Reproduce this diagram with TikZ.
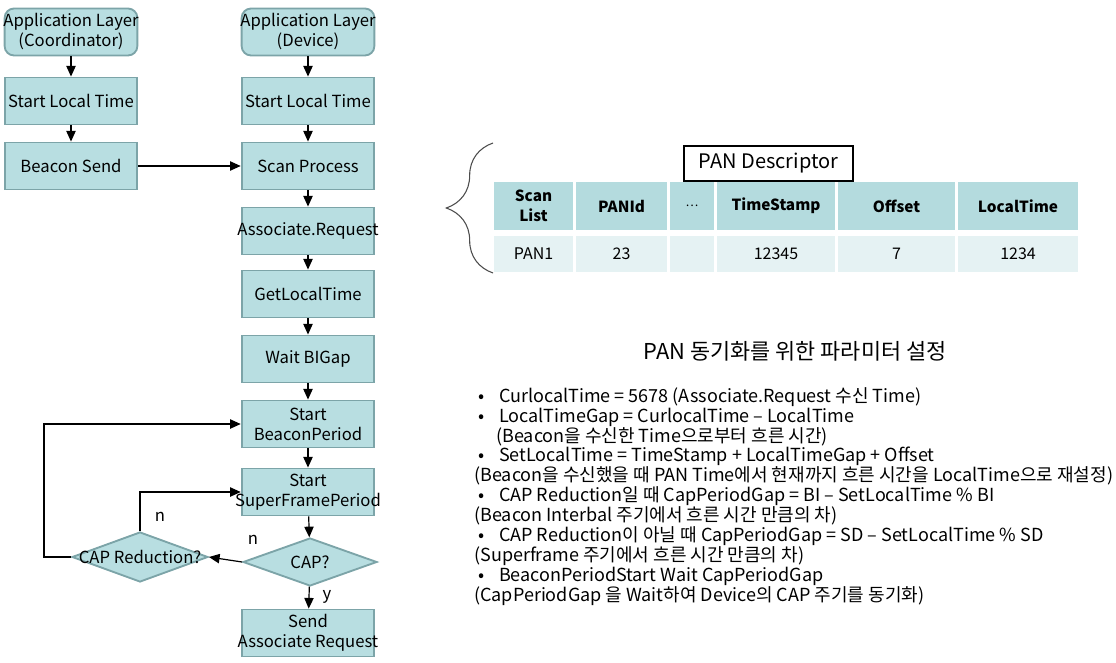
\documentclass[tikz,border=0pt]{standalone}
\usepackage{fontspec}
\setmainfont{Noto Sans CJK KR}
\usetikzlibrary{arrows.meta,shapes.geometric,decorations.pathreplacing}
\definecolor{boxfill}{RGB}{184,222,225}
\definecolor{boxline}{RGB}{124,164,168}
\definecolor{headfill}{RGB}{180,219,222}
\definecolor{rowfill}{RGB}{229,242,243}
% text that may run over the edges of its box
\newcommand{\wideline}[1]{\makebox[0pt]{#1}}
\tikzset{
  flowbox/.style={draw=boxline,fill=boxfill,line width=1.4pt,minimum width=99.5pt,minimum height=35.25pt,inner sep=0pt,align=center,font=\fontsize{12.5}{15}\selectfont},
  layerbox/.style={flowbox,rounded corners=7pt},
  decide/.style={diamond,draw=boxline,fill=boxfill,line width=1.4pt,inner sep=0pt},
  arr/.style={-{Triangle[length=8pt,width=7pt]},line width=0.9pt},
  headcell/.style={fill=headfill,minimum height=36pt,inner sep=0pt,align=center,font=\fontsize{11.5}{15}\selectfont\bfseries},
  rowcell/.style={fill=rowfill,minimum height=27pt,inner sep=0pt,font=\fontsize{12}{13}\selectfont},
  note/.style={anchor=west,inner sep=0pt,font=\fontsize{13.5}{15}\selectfont}
}
\begin{document}
\begin{tikzpicture}[x=0.75pt,y=-0.75pt]
  \useasboundingbox (0,0) rectangle (1116,663);
  % coordinator side
  \node[layerbox] (appc) at (71,32) {\wideline{Application Layer}\\(Coordinator)};
  \node[flowbox] (slc) at (71,101) {\wideline{Start Local Time}};
  \node[flowbox] (bsend) at (71,166) {Beacon Send};
  % device side
  \node[layerbox] (appd) at (308,32) {\wideline{Application Layer}\\(Device)};
  \node[flowbox] (sld) at (308,101) {\wideline{Start Local Time}};
  \node[flowbox] (scan) at (308,166) {Scan Process};
  \node[flowbox] (assoc) at (308,231) {\wideline{Associate.Request}};
  \node[flowbox] (getlt) at (308,294) {GetLocalTime};
  \node[flowbox] (wait) at (308,359) {Wait BIGap};
  \node[flowbox] (bperiod) at (308,424) {Start\\BeaconPeriod};
  \node[flowbox] (sfperiod) at (308,492) {Start\\\wideline{SuperFramePeriod}};
  \node[decide,minimum width=100.5pt,minimum height=36pt,label={[font=\fontsize{12.5}{14}\selectfont]center:CAP?}] (cap) at (310,562) {};
  \node[decide,minimum width=102pt,minimum height=37.5pt,label={[font=\fontsize{12.5}{14}\selectfont]center:CAP Reduction?}] (capred) at (140,557) {};
  \node[flowbox] (sendreq) at (308,633) {Send\\\wideline{Associate Request}};
  % connectors
  \draw[arr] (appc) -- (slc);
  \draw[arr] (slc) -- (bsend);
  \draw[arr] (appd) -- (sld);
  \draw[arr] (sld) -- (scan);
  \draw[arr] (bsend) -- (scan);
  \draw[arr] (scan) -- (assoc);
  \draw[arr] (assoc) -- (getlt);
  \draw[arr] (getlt) -- (wait);
  \draw[arr] (wait) -- (bperiod);
  \draw[arr] (bperiod) -- (sfperiod);
  \draw[arr] (sfperiod) -- (cap);
  \draw[arr] (cap) -- (sendreq);
  \draw[arr] (cap.west) -- (capred.east);
  \draw[arr] (capred.north) |- (sfperiod.west);
  \draw[arr] (capred.west) -- ++(-27,0) |- (bperiod.west);
  \node[font=\fontsize{12.5}{14}\selectfont] (ncap) at (253,540) {n};
  \node[font=\fontsize{12.5}{14}\selectfont] (nred) at (160,517) {n};
  \node[font=\fontsize{12.5}{14}\selectfont] (ycap) at (327,597) {y};
  % PAN descriptor table
  \draw[line width=0.8pt,color=black!70,decoration={brace,amplitude=35pt,aspect=0.5},decorate] (493,273) -- (493,143);
  \node[draw,line width=0.8pt,minimum width=126.75pt,minimum height=26.25pt,inner sep=0pt,font=\fontsize{15}{17}\selectfont] (desc) at (768.5,163.5) {PAN Descriptor};
  \node[headcell,minimum width=59.25pt] (hscan) at (533.5,206) {Scan\\List};
  \node[headcell,minimum width=68.25pt] (hpan) at (621.5,206) {PANId};
  \node[headcell,minimum width=33pt] (hdots) at (692,206) {\mdseries\fontsize{9}{10}\selectfont …};
  \node[headcell,minimum width=88.5pt] (hts) at (776,206) {TimeStamp};
  \node[headcell,minimum width=87.75pt] (hoff) at (896.5,206) {Offset};
  \node[headcell,minimum width=90pt] (hlt) at (1018,206) {LocalTime};
  \node[rowcell,minimum width=59.25pt] (dscan) at (533.5,254) {PAN1};
  \node[rowcell,minimum width=68.25pt] (dpan) at (621.5,254) {23};
  \node[rowcell,minimum width=33pt] (ddots) at (692,254) {};
  \node[rowcell,minimum width=88.5pt] (dts) at (776,254) {12345};
  \node[rowcell,minimum width=87.75pt] (doff) at (896.5,254) {7};
  \node[rowcell,minimum width=90pt] (dlt) at (1018,254) {1234};
  % parameter notes
  \node[font=\fontsize{16.4}{18}\selectfont] (title) at (795,351) {PAN 동기화를 위한 파라미터 설정};
  \node[note] (n1) at (478,397) {•\hspace{11pt}CurlocalTime = 5678 (Associate.Request 수신 Time)};
  \node[note] (n2) at (478,417) {•\hspace{11pt}LocalTimeGap = CurlocalTime – LocalTime};
  \node[note] (n3) at (496,437) {(Beacon을 수신한 Time으로부터 흐른 시간)};
  \node[note] (n4) at (478,456) {•\hspace{11pt}SetLocalTime = TimeStamp + LocalTimeGap + Offset};
  \node[note] (n5) at (474,476) {(Beacon을 수신했을 때 PAN Time에서 현재까지 흐른 시간을 LocalTime으로 재설정)};
  \node[note] (n6) at (478,496) {•\hspace{11pt}CAP Reduction일 때 CapPeriodGap = BI – SetLocalTime \% BI};
  \node[note] (n7) at (474,516) {(Beacon Interbal 주기에서 흐른 시간 만큼의 차)};
  \node[note] (n8) at (478,536) {•\hspace{11pt}CAP Reduction이 아닐 때 CapPeriodGap = SD – SetLocalTime \% SD};
  \node[note] (n9) at (474,556) {(Superframe 주기에서 흐른 시간 만큼의 차)};
  \node[note] (n10) at (478,576) {•\hspace{11pt}BeaconPeriodStart Wait CapPeriodGap};
  \node[note] (n11) at (474,596) {(CapPeriodGap 을 Wait하여 Device의 CAP 주기를 동기화)};
\end{tikzpicture}
\end{document}
